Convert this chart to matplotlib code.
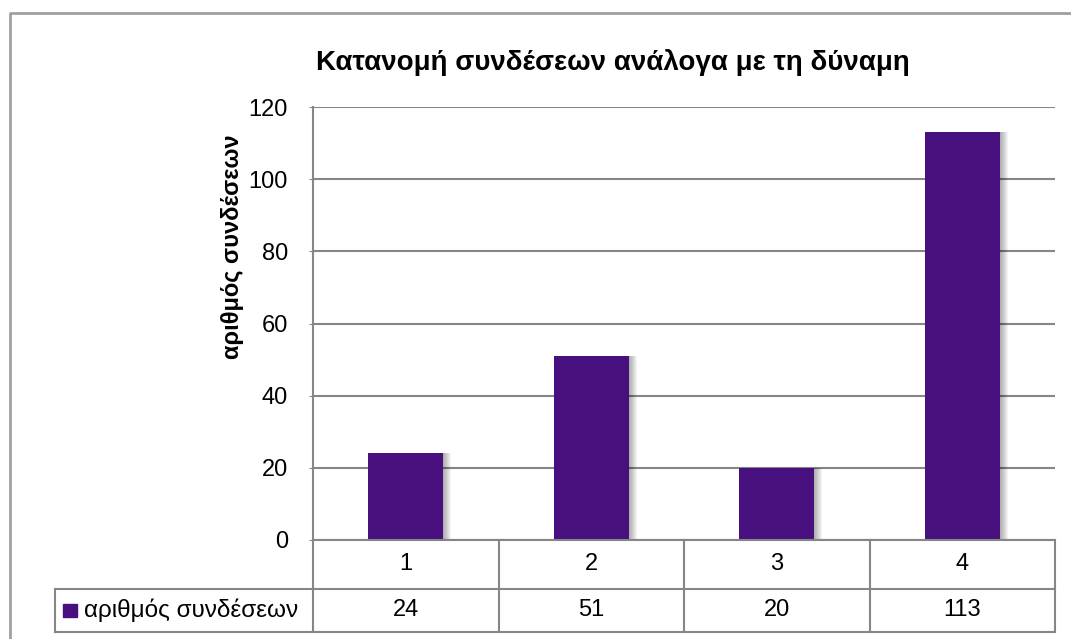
import numpy as np
import matplotlib.pyplot as plt
from matplotlib.lines import Line2D
from matplotlib.patches import Rectangle

plt.rcParams['font.family'] = ['Liberation Sans', 'DejaVu Sans']

categories = ['1', '2', '3', '4']
values = [24, 51, 20, 113]
series_name = 'αριθμός συνδέσεων'
title = 'Κατανομή συνδέσεων ανάλογα με τη δύναμη'
yticks = [0, 20, 40, 60, 80, 100, 120]

W, H = 1071, 639
fig = plt.figure(figsize=(W / 100, H / 100), dpi=100)

def fx(px):
    return px / W

def fy(py):
    return 1 - py / H

# plot area in pixels
L, R, T, B = 313, 1055, 107, 540
ax = fig.add_axes([fx(L), fy(B), fx(R - L), (B - T) / H])

bar_col = '#48107f'
grid_col = '#868686'
fs = 17
x = np.arange(len(categories))
px_unit = len(categories) / (R - L)  # data units per pixel in x

# soft shadow right of bars
for i in range(1, 9):
    ax.bar(x + i * px_unit, values, width=0.405, color='#000000',
           alpha=0.045, zorder=2, linewidth=0)
ax.bar(x, values, width=0.405, color=bar_col, zorder=3, linewidth=0)

ax.set_xlim(-0.5, len(categories) - 0.5)
ax.set_ylim(0, 120)
ax.set_yticks(yticks)
ax.set_yticklabels([str(t) for t in yticks], fontsize=fs)
ax.set_xticks([])
ax.yaxis.grid(True, color=grid_col, linewidth=1.5, zorder=0)
ax.set_axisbelow(True)
for s in ['top', 'right', 'bottom']:
    ax.spines[s].set_visible(False)
ax.spines['left'].set_color(grid_col)
ax.spines['left'].set_linewidth(1.5)
ax.tick_params(axis='y', length=3, color=grid_col, pad=15)

# title and y label
fig.text(fx(613), fy(62), title, ha='center', va='center',
         fontsize=20, fontweight='bold')
fig.text(fx(232), fy(247), series_name, ha='center', va='center',
         rotation=90, fontsize=fs, fontweight='bold')

# data table below the axis
row1_t, row1_b, row2_b = 540, 589, 632
leg_l = 55
col_w = (R - L) / len(categories)
lw = 1.5

def hline(y, x0, x1):
    fig.add_artist(Line2D([fx(x0), fx(x1)], [fy(y), fy(y)], color=grid_col, lw=lw))

def vline(xp, y0, y1):
    fig.add_artist(Line2D([fx(xp), fx(xp)], [fy(y0), fy(y1)], color=grid_col, lw=lw))

hline(row1_t, L, R)
hline(row1_b, leg_l, R)
hline(row2_b, leg_l, R)
vline(leg_l, row1_b, row2_b)
for i in range(len(categories) + 1):
    vline(L + i * col_w, row1_t, row2_b)

for i, (c, v) in enumerate(zip(categories, values)):
    cx = L + (i + 0.5) * col_w
    fig.text(fx(cx), fy((row1_t + row1_b) / 2), c, ha='center', va='center', fontsize=fs)
    fig.text(fx(cx), fy((row1_b + row2_b) / 2), str(v), ha='center', va='center', fontsize=fs)

# legend key in the table
fig.add_artist(Rectangle((fx(63), fy(617)), fx(14), 13 / H, color=bar_col))
fig.text(fx(84), fy((row1_b + row2_b) / 2), series_name, ha='left', va='center', fontsize=17.5)

# outer chart border
fig.add_artist(Line2D([fx(10), fx(10), fx(W)], [fy(H), fy(13), fy(13)],
                      color='#a0a0a0', lw=2))

fig.savefig('out.png', dpi=100)
